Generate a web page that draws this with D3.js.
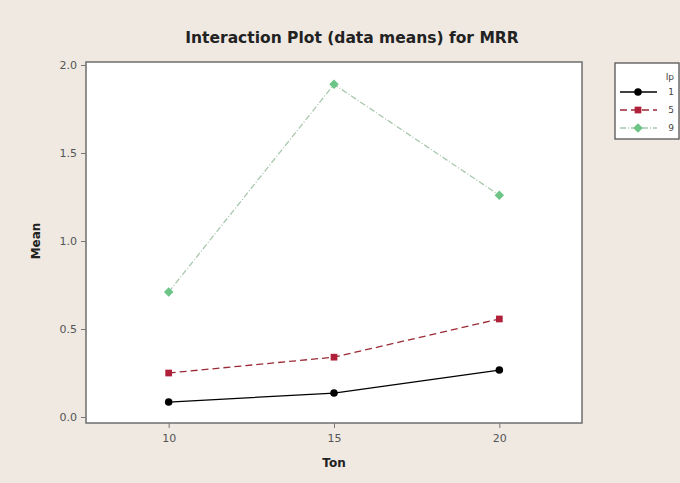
<!DOCTYPE html>
<html>
<head>
<meta charset="utf-8">
<script src="https://cdn.jsdelivr.net/npm/d3@7"></script>
<style>
  body { margin: 0; background: #efe9e2; }
  text { font-family: "DejaVu Sans", sans-serif; }
</style>
</head>
<body>
<div class="chart"></div>
<script>
var tonLevels = [10, 15, 20];
var ipLevels = ["1", "5", "9"];
var meansIp1 = [0.085, 0.136, 0.267];
var meansIp5 = [0.25, 0.34, 0.557];
var meansIp9 = [0.71, 1.89, 1.26];
var yTicks = [0.0, 0.5, 1.0, 1.5, 2.0];

var series = [
  { name: ipLevels[0], values: meansIp1, color: "#000000", marker: "#000000", dash: null, symbol: d3.symbolCircle, rot: 0 },
  { name: ipLevels[1], values: meansIp5, color: "#9a2a35", marker: "#b0203a", dash: "7,4", symbol: d3.symbolSquare, rot: 0 },
  { name: ipLevels[2], values: meansIp9, color: "#a8c8ae", marker: "#6cc486", dash: "6,2,1,2", symbol: d3.symbolSquare, rot: 45 }
];

var svgWidth = 680;
var svgHeight = 483;
var margin = { top: 62, right: 98, bottom: 60, left: 86 };
var width = svgWidth - margin.left - margin.right;
var height = svgHeight - margin.top - margin.bottom;

var root = d3.select(".chart")
  .append("svg")
  .attr("width", svgWidth)
  .attr("height", svgHeight);

root.append("rect")
  .attr("width", svgWidth)
  .attr("height", svgHeight)
  .attr("fill", "#efe9e2");

var chart = root.append("g")
  .attr("transform", "translate(" + margin.left + "," + margin.top + ")");

var x = d3.scaleLinear().domain([7.5, 22.5]).range([0, width]);
var y = d3.scaleLinear().domain([-0.034, 2.017]).range([height, 0]);

chart.append("rect")
  .attr("width", width)
  .attr("height", height)
  .attr("fill", "#ffffff")
  .attr("stroke", "#6e6e6e")
  .attr("stroke-width", 1.5);

var leftAxis = d3.axisLeft(y).tickValues(yTicks).tickFormat(d3.format(".1f")).tickSize(5).tickPadding(4);
var bottomAxis = d3.axisBottom(x).tickValues(tonLevels).tickSize(5).tickPadding(6);

var gy = chart.append("g").call(leftAxis);
var gx = chart.append("g").attr("transform", "translate(0," + height + ")").call(bottomAxis);

[gy, gx].forEach(function(g) {
  g.select(".domain").remove();
  g.selectAll("line").attr("stroke", "#777");
  g.selectAll("text").attr("fill", "#555").style("font-size", "11px");
});

var line = d3.line()
  .x(function(d, i) { return x(tonLevels[i]); })
  .y(function(d) { return y(d); });

series.forEach(function(s) {
  chart.append("path")
    .datum(s.values)
    .attr("d", line)
    .attr("fill", "none")
    .attr("stroke", s.color)
    .attr("stroke-width", 1.3)
    .attr("stroke-dasharray", s.dash);

  chart.selectAll(null)
    .data(s.values)
    .enter().append("path")
      .attr("d", d3.symbol().type(s.symbol).size(45))
      .attr("transform", function(d, i) {
        return "translate(" + x(tonLevels[i]) + "," + y(d) + ") rotate(" + s.rot + ")";
      })
      .attr("fill", s.marker);
});

root.append("text")
  .attr("x", 352)
  .attr("y", 43)
  .attr("text-anchor", "middle")
  .style("font-size", "15.5px")
  .style("font-weight", "bold")
  .attr("fill", "#222")
  .text("Interaction Plot (data means) for MRR");

root.append("text")
  .attr("transform", "translate(40," + (margin.top + y(1.0)) + ") rotate(-90)")
  .attr("text-anchor", "middle")
  .style("font-size", "12px")
  .style("font-weight", "bold")
  .attr("fill", "#222")
  .text("Mean");

root.append("text")
  .attr("x", margin.left + x(15))
  .attr("y", 467)
  .attr("text-anchor", "middle")
  .style("font-size", "12px")
  .style("font-weight", "bold")
  .attr("fill", "#222")
  .text("Ton");

// legend
var legend = root.append("g").attr("transform", "translate(615,63)");
legend.append("rect")
  .attr("width", 64)
  .attr("height", 76)
  .attr("fill", "#ffffff")
  .attr("stroke", "#555")
  .attr("stroke-width", 1.3);

legend.append("text")
  .attr("x", 59)
  .attr("y", 17)
  .attr("text-anchor", "end")
  .style("font-size", "9px")
  .attr("fill", "#444")
  .text("Ip");

series.forEach(function(s, i) {
  var ry = 29 + i * 18;
  legend.append("line")
    .attr("x1", 5).attr("x2", 42)
    .attr("y1", ry).attr("y2", ry)
    .attr("stroke", s.color)
    .attr("stroke-width", 1.3)
    .attr("stroke-dasharray", s.dash);
  legend.append("path")
    .attr("d", d3.symbol().type(s.symbol).size(45))
    .attr("transform", "translate(23," + ry + ") rotate(" + s.rot + ")")
    .attr("fill", s.marker);
  legend.append("text")
    .attr("x", 59)
    .attr("y", ry + 3)
    .attr("text-anchor", "end")
    .style("font-size", "9px")
    .attr("fill", "#444")
    .text(s.name);
});
</script>
</body>
</html>
